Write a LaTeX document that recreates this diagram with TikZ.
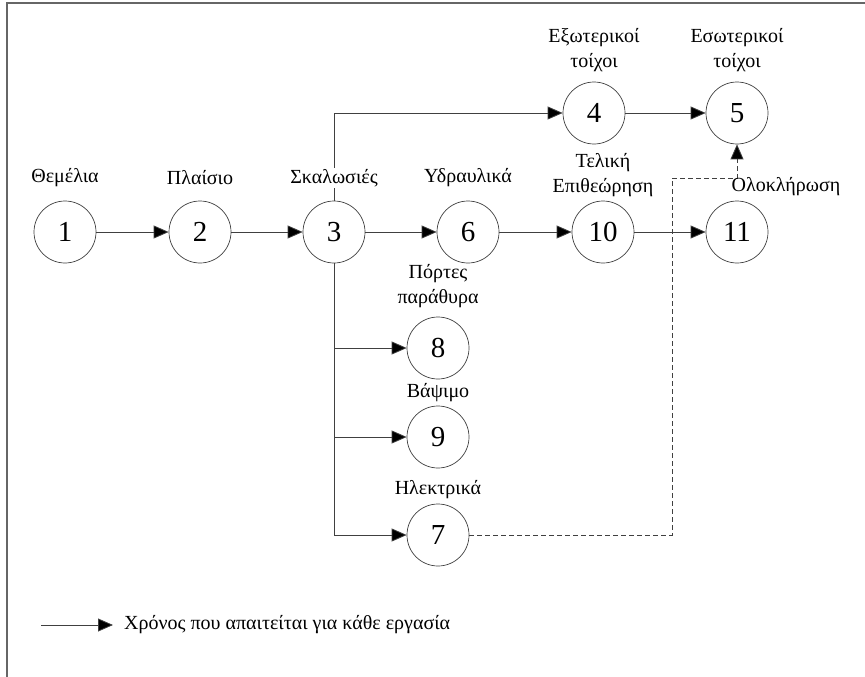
\documentclass[tikz,border=0pt]{standalone}
\usepackage{fontspec}
\setmainfont{Liberation Serif}
\usetikzlibrary{arrows.meta}

\tikzset{
  ev/.style={circle, draw=black!75, line width=0.7pt, minimum size=62pt, inner sep=0pt,
             font=\fontsize{29}{32}\selectfont},
  lbl/.style={font=\fontsize{20}{25}\selectfont, align=center, inner sep=1pt},
  conn/.style={draw=black!75, line width=0.8pt, -{Triangle[length=15pt,width=13pt,fill=black]}},
  dconn/.style={conn, dashed, dash pattern=on 5pt off 3pt},
  frameline/.style={draw=black!60, line width=1.6pt}
}

\begin{document}
\begin{tikzpicture}[x=1pt,y=-1pt]
\useasboundingbox (0,0) rectangle (865,677);

% outer frame (top and left edges only)
\draw[frameline] (7,677) -- (7,3) -- (865,3);

% events
\node[ev] (n1)  at (65,232)  {1};
\node[ev] (n2)  at (200,232) {2};
\node[ev] (n3)  at (334,232) {3};
\node[ev] (n6)  at (468,232) {6};
\node[ev] (n10) at (603,232) {10};
\node[ev] (n11) at (737,232) {11};
\node[ev] (n4)  at (594,113) {4};
\node[ev] (n5)  at (737,113) {5};
\node[ev] (n8)  at (438,348) {8};
\node[ev] (n9)  at (438,437) {9};
\node[ev] (n7)  at (438,535) {7};

% activities
\draw[conn] (n1) -- (n2);
\draw[conn] (n2) -- (n3);
\draw[conn] (n3) -- (n6);
\draw[conn] (n6) -- (n10);
\draw[conn] (n10) -- (n11);
\draw[conn] (n3.north) |- (n4.west);
\draw[conn] (n4) -- (n5);
\draw[conn] (n3.south) |- (n7.west);
\draw[conn] (n3.south |- n8) -- (n8.west);
\draw[conn] (n3.south |- n9) -- (n9.west);

% dummy dependency 7 -> 5
\coordinate (dk) at (672,178);
\draw[dconn] (n7.east) -| (dk) -| (n5.south);

% task names
\node[lbl] at (65,178)  {Θεμέλια};
\node[lbl] at (200,178) {Πλαίσιο};
\node[lbl, fill=white] at (334,178) {Σκαλωσιές};
\node[lbl] at (468,178) {Υδραυλικά};
\node[lbl] at (603,175) {Τελική\\Επιθεώρηση};
\node[lbl] at (786,187) {Ολοκλήρωση};
\node[lbl] at (594,50)  {Εξωτερικοί\\τοίχοι};
\node[lbl] at (737,50)  {Εσωτερικοί\\τοίχοι};
\node[lbl] at (438,286) {Πόρτες\\παράθυρα};
\node[lbl] at (438,393) {Βάψιμο};
\node[lbl] at (438,490) {Ηλεκτρικά};

% legend
\coordinate (lg0) at (41,625);
\coordinate (lg1) at (113,625);
\draw[conn] (lg0) -- (lg1);
\node[lbl, anchor=west] at (123,625) {Χρόνος που απαιτείται για κάθε εργασία};
\end{tikzpicture}
\end{document}
